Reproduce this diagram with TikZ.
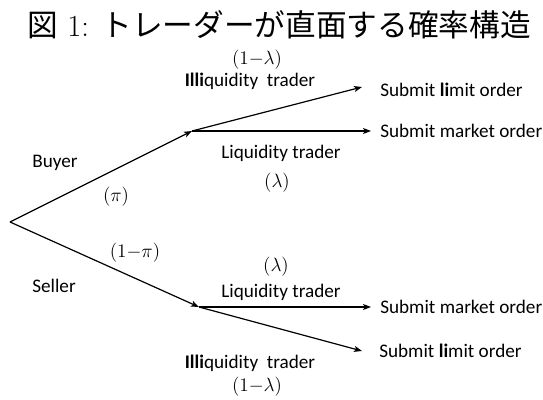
\documentclass[tikz,border=0pt]{standalone}
\usepackage{fontspec}
\setsansfont{Carlito}
\newfontfamily\cjk{Noto Sans CJK JP}
\usetikzlibrary{arrows.meta}
\begin{document}
\begin{tikzpicture}[x=0.75pt,y=-0.75pt,
  lbl/.style={font=\sffamily\fontsize{14.4}{16}\selectfont, inner sep=0pt},
  prob/.style={font=\fontsize{14.5}{16}\selectfont, inner sep=0pt},
  arr/.style={line width=0.9pt, -{Stealth[length=6pt,width=4.5pt,inset=1.5pt]}}]
\useasboundingbox (0,0) rectangle (543,400);
\node[inner sep=0pt,font=\fontsize{23}{26}\selectfont] (title) at (279,25) {{\cjk 図} 1: {\cjk トレーダーが直面する確率構造}};
\coordinate (root) at (10,222);
\coordinate (up) at (192,131);
\coordinate (lo) at (199,307);
\coordinate (ulim) at (362,87);
\coordinate (umkt) at (371,131);
\coordinate (lmkt) at (371,307);
\coordinate (llim) at (362,351);
\draw[arr] (root) -- (up);
\draw[arr] (root) -- (lo);
\draw[arr] (up) -- (ulim);
\draw[arr] (up) -- (umkt);
\draw[arr] (lo) -- (lmkt);
\draw[arr] (lo) -- (llim);
\node[prob] (ul1) at (257,60) {$(1{-}\lambda)$};
\node[lbl] (uill) at (250,81) {\textbf{Illi}quidity\ \ trader};
\node[lbl] (uliq) at (281,153) {Liquidity trader};
\node[prob] (ul2) at (277,183) {$(\lambda)$};
\node[lbl,anchor=west] (tul) at (380,90) {Submit \textbf{li}mit order};
\node[lbl,anchor=west] (tum) at (380,131) {Submit market order};
\node[lbl] (buyer) at (55,163) {Buyer};
\node[prob] (pi) at (116,197) {$(\pi)$};
\node[prob] (npi) at (135,253) {$(1{-}\pi)$};
\node[lbl] (seller) at (54,286) {Seller};
\node[prob] (ll2) at (276,267) {$(\lambda)$};
\node[lbl] (lliq) at (281,292) {Liquidity trader};
\node[lbl,anchor=west] (tlm) at (380,307) {Submit market order};
\node[lbl,anchor=west] (tll) at (379,351) {Submit \textbf{li}mit order};
\node[lbl] (lill) at (250,363) {\textbf{Illi}quidity\ \ trader};
\node[prob] (ll1) at (257,387) {$(1{-}\lambda)$};
\end{tikzpicture}
\end{document}
